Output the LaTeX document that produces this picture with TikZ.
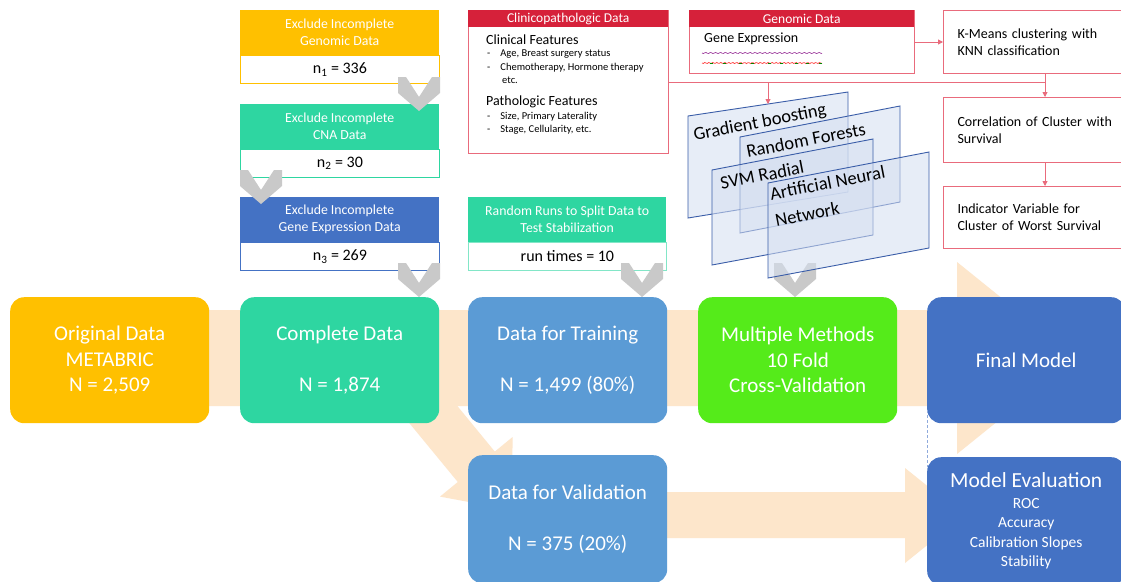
\documentclass[tikz,border=0pt]{standalone}
\usepackage{fontspec}
\setmainfont{Carlito}
\usetikzlibrary{arrows.meta}
\definecolor{gold}{HTML}{FFC000}
\definecolor{teal2}{HTML}{2ED6A1}
\definecolor{trblue}{HTML}{5B9BD5}
\definecolor{dkblue}{HTML}{4472C4}
\definecolor{lime2}{HTML}{55EB1A}
\definecolor{peach}{HTML}{FDE6CB}
\definecolor{redhead}{HTML}{D6213A}
\definecolor{pinkb}{HTML}{E96B7C}
\definecolor{chevgray}{HTML}{C9C9C9}
\definecolor{planefill}{HTML}{D5DFF1}
\definecolor{planeline}{HTML}{3A5DA8}
\definecolor{dashblue}{HTML}{8FAADC}
\newcommand\mychev[2]{\fill[chevgray] (#1-21,#2) -- (#1-13,#2) -- (#1,#2+20) -- (#1+13,#2) -- (#1+21,#2) -- (#1+21,#2+16) -- (#1,#2+34) -- (#1-21,#2+16) -- cycle;}
\begin{document}
\begin{tikzpicture}[x=1pt,y=-1pt,
  bigbox/.style={rounded corners=14pt, minimum width=199pt, minimum height=126pt, anchor=north west, text=white, align=center, inner sep=0pt, font=\fontsize{21}{25.5}\selectfont},
  hdr/.style={anchor=north west, minimum width=199pt, minimum height=45pt, inner sep=0pt, align=center, text=white, font=\fontsize{13.8}{17}\selectfont},
  body/.style={anchor=north west, minimum width=199pt, minimum height=28pt, inner sep=0pt, fill=white, font=\fontsize{16}{19}\selectfont, line width=0.8pt},
  redhdr/.style={anchor=north west, minimum height=17pt, inner sep=0pt, fill=redhead, text=white, font=\fontsize{13.5}{15}\selectfont},
  pinkbox/.style={anchor=north west, draw=pinkb, line width=1pt, inner sep=0pt, fill=white},
  rbox/.style={anchor=north west, draw=pinkb, line width=1pt, fill=white, inner xsep=14pt, inner ysep=0pt, text width=175pt, minimum height=63pt, align=left, font=\fontsize{14}{17}\selectfont},
  conn/.style={draw=pinkb, line width=0.9pt},
  arr/.style={conn, -{Triangle[length=5pt,width=5pt]}},
  plane/.style={fill=planefill, fill opacity=0.55, draw=planeline, line width=0.9pt},
  planetxt/.style={rotate=11, font=\fontsize{18.5}{27}\selectfont, inner sep=0pt, align=left},
  bul/.style={anchor=west, inner sep=0pt, font=\fontsize{10.5}{12}\selectfont},
  sub/.style={anchor=west, inner sep=0pt, font=\fontsize{14}{16}\selectfont}
]
\useasboundingbox (0,0) rectangle (1121,581);
\clip (0,0) rectangle (1121,581);
\fill[white] (0,0) rectangle (1121,581);

% peach background arrows
\fill[peach] (15,310) -- (957,310) -- (957,262) -- (1076,358) -- (957,454) -- (957,406) -- (15,406) -- cycle;
\fill[peach] (381.2,313.3) -- (494.8,451.6) -- (512.6,437.0) -- (511.9,510.0) -- (440.0,496.6) -- (457.8,482.0) -- (344.1,343.8) -- cycle;
\fill[peach] (560,492) -- (905,492) -- (905,468) -- (964,515.5) -- (905,563) -- (905,538) -- (560,538) -- cycle;

% main boxes
\node[bigbox, fill=gold] (orig) at (10,297) {Original Data\\METABRIC\\N = 2,509};
\node[bigbox, fill=teal2] (comp) at (240,297) {Complete Data\\\mbox{}\\N = 1,874};
\node[bigbox, fill=trblue] (train) at (468,297) {Data for Training\\\mbox{}\\N = 1,499 (80\%)};
\node[bigbox, fill=lime2] (mm) at (698,297) {Multiple Methods\\10 Fold\\Cross-Validation};
\node[bigbox, fill=dkblue, minimum width=198pt] (fm) at (927,297) {Final Model};
\node[bigbox, fill=trblue, minimum height=128pt] (val) at (468,455) {Data for Validation\\\mbox{}\\N = 375 (20\%)};
\node[bigbox, fill=dkblue, minimum width=198pt, minimum height=128pt, font=\fontsize{15.5}{19.5}\selectfont] (me) at (927,457) {{\fontsize{21.5}{21.5}\selectfont Model Evaluation}\\[1pt]ROC\\Accuracy\\Calibration Slopes\\Stability};
\draw[dashblue, densely dashed, line width=0.8pt] ([yshift=13pt]fm.south west) -- ([yshift=-10pt]me.north west);

% exclusion boxes
\node[hdr, fill=gold] (h1) at (240,10) {Exclude Incomplete\\Genomic Data};
\node[body, draw=gold] (b1) at (240,55) {n\textsubscript{1} = 336};
\node[hdr, fill=teal2] (h2) at (240,104) {Exclude Incomplete\\CNA Data};
\node[body, draw=teal2] (b2) at (240,149) {n\textsubscript{2} = 30};
\node[hdr, fill=dkblue] (h3) at (240,197) {Exclude Incomplete\\Gene Expression Data};
\node[body, draw=dkblue] (b3) at (240,242) {n\textsubscript{3} = 269};
\node[hdr, fill=teal2, minimum width=198pt] (hr) at (468,197) {Random Runs to Split Data to\\Test Stabilization};
\node[body, draw=teal2!60, minimum width=198pt] (br) at (468,242) {run times = 10};

% clinicopathologic data
\node[pinkbox, minimum width=200pt, minimum height=143pt] (clin) at (468,10) {};
\node[redhdr, minimum width=200pt] (clinh) at (468,10) {Clinicopathologic Data};
\node[sub] (cf) at (486,40) {Clinical Features};
\node[bul] (cb1) at (487,54) {-\hspace{10pt}Age, Breast surgery status};
\node[bul] (cb2) at (487,67.5) {-\hspace{10pt}Chemotherapy, Hormone therapy};
\node[bul] (cb3) at (502,80) {etc.};
\node[sub] (pf) at (486,102) {Pathologic Features};
\node[bul] (pb1) at (487,117) {-\hspace{10pt}Size, Primary Laterality};
\node[bul] (pb2) at (487,129.5) {-\hspace{10pt}Stage, Cellularity, etc.};

% genomic data
\node[pinkbox, minimum width=225pt, minimum height=63pt] (gen) at (689,10) {};
\node[redhdr, minimum width=225pt] (genh) at (689,10) {Genomic Data};
\node[sub] (gext) at (704,39) {Gene Expression};
\draw[violet!75, line width=0.7pt] plot[domain=0:120, samples=90] ({702+\x},{53+0.6*sin(\x*73)});
\draw[red!75, line width=0.7pt] plot[domain=0:120, samples=90] ({702+\x},{63+0.6*sin(\x*91)});
\foreach \g in {8,21,37,49,66,78,93,104,117} {\draw[green!55!black, line width=0.7pt] ({702+\g},63.5) -- ({704.5+\g},63.5);}

% right boxes
\node[rbox] (km) at (943,10) {K-Means clustering with\\KNN classification};
\node[rbox, minimum height=65pt] (corr) at (943,97) {Correlation of Cluster with\\Survival};
\node[rbox, minimum height=62pt] (ind) at (943,186) {Indicator Variable for\\Cluster of Worst Survival};

% chevrons
\mychev{419}{77}
\mychev{261}{170}
\mychev{419}{263}
\mychev{642}{263}
\mychev{795}{263}

% method planes
\coordinate (p1top) at (768,104);
\filldraw[plane] (688,116) -- (848,92) -- (848,192) -- (688,218) -- cycle;
\filldraw[plane] (740,137) -- (900,106) -- (900,202) -- (740,233) -- cycle;
\filldraw[plane] (712,170) -- (873,139) -- (873,235) -- (712,265) -- cycle;
\filldraw[plane] (768,183) -- (929,152) -- (929,248) -- (768,278) -- cycle;
\node[planetxt] (tgb) at (760,123) {Gradient boosting};
\node[planetxt] (trf) at (806,140) {Random Forests};
\node[planetxt] (tsvm) at (762,175) {SVM Radial};
\node[planetxt] (tann) at (830,196) {Artificial Neural\\Network};

% connectors
\draw[arr] (gen.east) -- (km.west);
\draw[conn] (clin.east) -- (clin.east -| km.south);
\draw[arr] (clin.east -| p1top) -- (p1top);
\draw[arr] (km.south) -- (corr.north);
\draw[arr] (corr.south) -- (ind.north);
\end{tikzpicture}
\end{document}
